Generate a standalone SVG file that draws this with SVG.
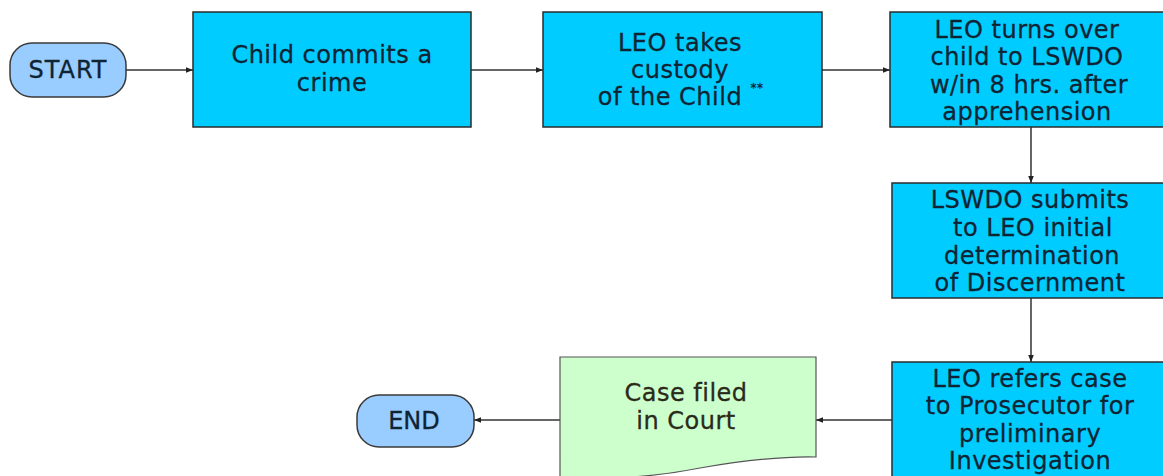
<svg xmlns="http://www.w3.org/2000/svg" width="1163" height="476" viewBox="0 0 1163 476">
<style>
.box{fill:#00CCFF;stroke:#2b2b2b;stroke-width:1.5}
.term{fill:#99CCFF;stroke:#3a3a3a;stroke-width:1.5}
.doc{fill:#CCFFCC;stroke:#555;stroke-width:1.2}
.t{font-family:"DejaVu Sans",Verdana,sans-serif;font-size:24px;letter-spacing:0.5px;fill:#0f2433;stroke:#0f2433;stroke-width:0.3;text-anchor:middle;dominant-baseline:central}
.tg{fill:#2a2a1a;stroke:#2a2a1a}
.c{fill:none;stroke:#333;stroke-width:1.5;marker-end:url(#ah)}
</style>
<defs>
<marker id="ah" viewBox="0 0 10 10" refX="10" refY="5" markerWidth="7" markerHeight="7" markerUnits="userSpaceOnUse" orient="auto">
<path d="M0,1 L10,5 L0,9 Z" fill="#222"/>
</marker>
</defs>
<rect width="1163" height="476" fill="#fff"/>
<g id="connectors">
<line class="c" x1="126" y1="70" x2="193" y2="70"/>
<line class="c" x1="471" y1="70" x2="543" y2="70"/>
<line class="c" x1="822" y1="70" x2="890" y2="70"/>
<line class="c" x1="1031" y1="127" x2="1031" y2="183"/>
<line class="c" x1="1031" y1="298" x2="1031" y2="362"/>
<line class="c" x1="892" y1="420" x2="816" y2="420"/>
<line class="c" x1="560" y1="420" x2="474" y2="420"/>
</g>
<g id="start">
<rect class="term" x="10" y="43" width="116" height="54" rx="22"/>
<text class="t" x="68" y="70" style="letter-spacing:1px">START</text>
</g>
<g id="n1">
<rect class="box" x="193" y="12" width="278" height="115"/>
<text class="t" x="332" y="55">Child commits a</text>
<text class="t" x="332" y="83">crime</text>
</g>
<g id="n2">
<rect class="box" x="543" y="12" width="279" height="115"/>
<text class="t" x="680" y="43">LEO takes</text>
<text class="t" x="680" y="70">custody</text>
<text class="t" x="670" y="97">of the Child</text>
<text class="t" x="757" y="88" style="font-size:12px">**</text>
</g>
<g id="n3">
<rect class="box" x="890" y="12" width="280" height="115"/>
<text class="t" x="1027" y="30">LEO turns over</text>
<text class="t" x="1027" y="57">child to LSWDO</text>
<text class="t" x="1029" y="85">w/in 8 hrs. after</text>
<text class="t" x="1027" y="112">apprehension</text>
</g>
<g id="n4">
<rect class="box" x="892" y="183" width="280" height="115"/>
<text class="t" x="1030" y="200">LSWDO submits</text>
<text class="t" x="1033" y="228">to LEO initial</text>
<text class="t" x="1032" y="256">determination</text>
<text class="t" x="1030" y="283">of Discernment</text>
</g>
<g id="n5">
<rect class="box" x="892" y="362" width="280" height="130"/>
<text class="t" x="1030" y="379">LEO refers case</text>
<text class="t" x="1030" y="406">to Prosecutor for</text>
<text class="t" x="1030" y="434">preliminary</text>
<text class="t" x="1030" y="461">Investigation</text>
</g>
<g id="doc">
<path class="doc" d="M560,357 H816 V457 C775,456 735,462 700,468 C660,476 610,480 560,478 Z"/>
<text class="t tg" x="686" y="393">Case filed</text>
<text class="t tg" x="686" y="421">in Court</text>
</g>
<g id="end">
<rect class="term" x="357" y="395" width="117" height="52" rx="22"/>
<text class="t" x="414" y="421" style="letter-spacing:0px">END</text>
</g>
</svg>
